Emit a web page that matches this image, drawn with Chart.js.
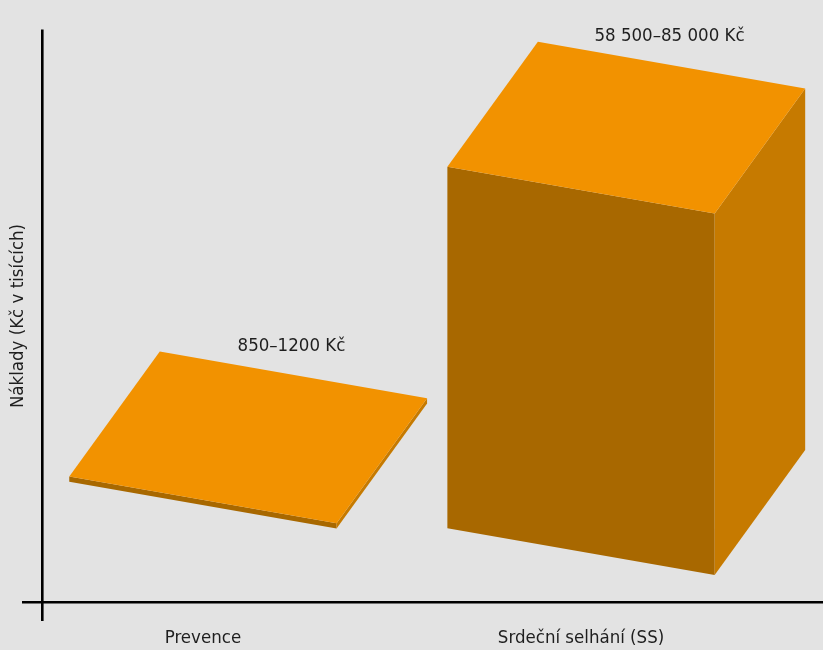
<!DOCTYPE html>
<html>
<head>
<meta charset="utf-8">
<script src="https://cdn.jsdelivr.net/npm/chart.js@4.4.1/dist/chart.umd.min.js"></script>
<style>
  html, body { margin: 0; padding: 0; background: #e3e3e3; }
</style>
</head>
<body>
<canvas id="costChart" width="823" height="650"></canvas>
<script>
const categories = ['Prevence', 'Srdeční selhání (SS)'];
// Costs in thousands of Kč (middle of each stated range)
const costMid = [1.025, 71.75];
const valueLabels = ['850–1200 Kč', '58 500–85 000 Kč'];

const FONT = "'Liberation Sans Narrow', 'DejaVu Sans Condensed', sans-serif";
const FONT_SIZE = 18.5;
const TEXT = '#1e1e1e';
const TOP_COLOR = '#f29200';
const FRONT_COLOR = '#a86800';
const SIDE_COLOR = '#c67a00';

// oblique projection used for the boxes
const FLOOR_TILT = 0.123;
const FACE_TILT = 0.175;
const DEPTH_X = 90.5;
const DEPTH_Y = -125;

function poly(ctx, pts, color) {
  ctx.beginPath();
  ctx.moveTo(pts[0][0], pts[0][1]);
  for (let i = 1; i < pts.length; i++) ctx.lineTo(pts[i][0], pts[i][1]);
  ctx.closePath();
  ctx.fillStyle = color;
  ctx.fill();
}

// Plain black axis lines that cross a little past each other
const axisLines = {
  id: 'axisLines',
  beforeDatasetsDraw(chart) {
    const { ctx, chartArea } = chart;
    ctx.save();
    ctx.strokeStyle = '#000';
    ctx.lineWidth = 2.6;
    ctx.beginPath();
    ctx.moveTo(chartArea.left - 0.7, chartArea.top - 0.5);
    ctx.lineTo(chartArea.left - 0.7, chartArea.bottom + 19);
    ctx.moveTo(chartArea.left - 21, chartArea.bottom + 0.2);
    ctx.lineTo(chartArea.right, chartArea.bottom + 0.2);
    ctx.stroke();
    ctx.restore();
  }
};

// Turns each (invisible) bar into a 3D box and writes its range above it
const box3d = {
  id: 'box3d',
  afterDatasetsDraw(chart) {
    const { ctx, chartArea } = chart;
    const meta = chart.getDatasetMeta(0);
    ctx.save();
    meta.data.forEach((bar, i) => {
      const xl = bar.x - bar.width / 2;
      const xr = bar.x + bar.width / 2;
      const lift = FLOOR_TILT * (xl - chartArea.left);
      const h = bar.base - bar.y;
      const bl = [xl, bar.base + lift];
      const br = [xr, bar.base + lift + FACE_TILT * bar.width];
      const tl = [xl, bl[1] - h];
      const tr = [xr, br[1] - h];
      const back = p => [p[0] + DEPTH_X, p[1] + DEPTH_Y];

      poly(ctx, [tl, tr, br, bl], FRONT_COLOR);
      poly(ctx, [tr, back(tr), back(br), br], SIDE_COLOR);
      poly(ctx, [tl, back(tl), back(tr), tr], TOP_COLOR);

      const btl = back(tl), btr = back(tr);
      ctx.fillStyle = TEXT;
      ctx.font = FONT_SIZE + 'px ' + FONT;
      ctx.textAlign = 'center';
      ctx.textBaseline = 'alphabetic';
      ctx.fillText(valueLabels[i], (btl[0] + btr[0]) / 2 - 2, btl[1] - 1);
    });
    ctx.restore();
  }
};

const ctx = document.getElementById('costChart').getContext('2d');

new Chart(ctx, {
  type: 'bar',
  data: {
    datasets: [{
      data: categories.map((c, i) => ({ x: i, y: costMid[i] })),
      backgroundColor: 'rgba(0,0,0,0)',
      categoryPercentage: 1,
      barPercentage: 0.707,
    }],
  },
  options: {
    responsive: false,
    animation: false,
    devicePixelRatio: 1,
    layout: { padding: { top: 30, left: 0, right: 0, bottom: 0 } },
    plugins: {
      legend: { display: false },
      tooltip: { enabled: false },
    },
    scales: {
      x: {
        type: 'linear',
        min: -0.423,
        max: 1.64,
        offset: false,
        grid: { display: false, drawTicks: false },
        border: { display: false },
        afterBuildTicks: scale => { scale.ticks = categories.map((c, i) => ({ value: i })); },
        afterFit: scale => { scale.height = 48; },
        ticks: {
          callback: value => categories[value],
          autoSkip: false,
          maxRotation: 0,
          padding: 25,
          color: TEXT,
          font: { family: FONT, size: FONT_SIZE },
        },
      },
      y: {
        min: -24.5,
        max: 89,
        grid: { display: false, drawTicks: false },
        border: { display: false },
        ticks: { display: false },
        afterFit: scale => { scale.width = 43; },
        title: {
          display: true,
          text: 'Náklady (Kč v tisících)',
          color: TEXT,
          font: { family: FONT, size: FONT_SIZE },
          padding: { top: 7, bottom: 0 },
        },
      },
    },
  },
  plugins: [axisLines, box3d],
});
</script>
</body>
</html>
